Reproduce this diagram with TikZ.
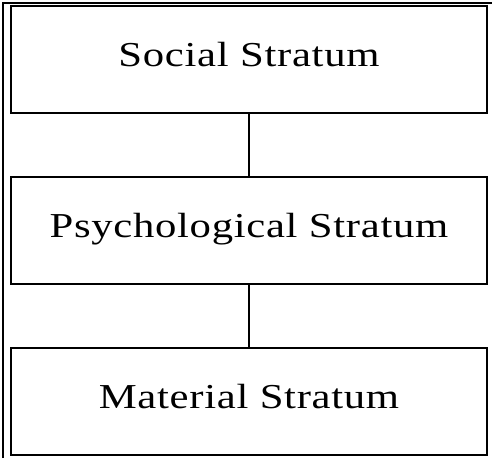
\documentclass[tikz,border=0pt]{standalone}
\usepackage{fontspec}
\setmainfont{Liberation Serif}
\usetikzlibrary{positioning}
\tikzset{
  stratbox/.style={draw, line width=2pt, outer sep=0pt,
    minimum width=476pt, minimum height=107pt,
    text height=24.5pt, text depth=10.5pt, align=center,
    font=\fontsize{35}{40}\selectfont\addfontfeature{FakeStretch=1.22,LetterSpace=2}},
  conn/.style={line width=2pt},
  frame/.style={line width=2pt},
}

\begin{document}
\begin{tikzpicture}[x=1pt, y=-1pt, node distance=64pt]
  \useasboundingbox (0,0) rectangle (492,458);
  % outer frame
  \draw[frame] (2.5,458) -- (2.5,2.5) -- (492,2.5);
  % Social
  \node[stratbox] (social) at (249,59.5) {Social Stratum};
  % Psychological
  \node[stratbox, below=of social] (psych) {Psychological Stratum};
  % Material
  \node[stratbox, below=of psych] (material) {Material Stratum};

  % Connectors
  \draw[conn] (social) -- (psych);
  \draw[conn] (psych) -- (material);
\end{tikzpicture}
\end{document}
